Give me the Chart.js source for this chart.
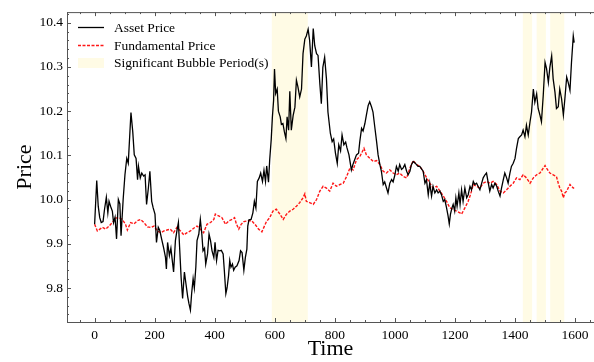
<!DOCTYPE html>
<html>
<head>
<meta charset="utf-8">
<script src="https://cdn.jsdelivr.net/npm/chart.js@4.4.1/dist/chart.umd.min.js"></script>
<style>
  html, body { margin: 0; padding: 0; background: #fff; overflow: hidden; }
  #wrap { width: 594px; height: 362px; }
</style>
</head>
<body>
<div id="wrap"><canvas id="priceChart" width="594" height="362"></canvas></div>
<script>
// Asset price (black)
const assetTime = [0,7,12,17,22,28,33,39,44,48,53,59,63,68,73,79,84,88,95,101,107,112,117,121,127,132,138,143,146,152,157,163,168,173,179,184,190,195,201,206,212,217,223,230,236,239,243,249,254,260,263,269,274,279,283,288,293,299,304,310,314,319,323,328,332,337,341,347,352,357,361,366,370,376,381,386,391,397,401,406,411,417,422,428,432,437,441,446,450,454,459,463,468,474,481,486,491,497,502,507,510,514,521,527,532,537,542,548,553,559,564,569,573,579,583,588,592,596,599,603,608,612,618,622,627,632,637,641,646,650,655,661,667,672,677,683,689,694,700,705,711,716,722,728,733,739,744,750,755,760,766,772,777,785,791,796,802,808,813,819,824,830,836,840,847,855,860,866,872,879,883,889,894,900,905,911,916,922,927,933,939,944,950,955,961,966,972,977,983,989,994,1000,1005,1011,1016,1022,1027,1033,1039,1044,1050,1055,1061,1066,1072,1077,1083,1088,1094,1100,1105,1111,1116,1122,1127,1133,1139,1144,1150,1155,1161,1166,1172,1177,1181,1185,1190,1194,1199,1203,1207,1213,1217,1222,1227,1233,1239,1244,1250,1255,1261,1266,1272,1277,1283,1289,1294,1300,1305,1311,1316,1322,1327,1333,1339,1344,1350,1355,1361,1366,1372,1377,1383,1388,1394,1400,1405,1411,1416,1422,1427,1433,1438,1444,1450,1455,1461,1466,1472,1477,1483,1488,1494,1500,1505,1511,1516,1522,1527,1533,1538,1544,1549,1555,1561,1566,1572,1577,1583,1588,1594,1597];
const assetPrice = [9.944,10.043,9.985,9.959,9.948,9.950,9.978,10.005,9.970,9.996,9.985,9.974,9.948,9.960,9.911,10.000,9.990,9.918,10.000,10.056,10.093,10.082,10.146,10.197,10.153,10.101,10.093,10.045,10.075,10.049,10.060,10.053,10.056,9.989,10.026,10.064,9.996,9.981,9.967,9.903,9.937,9.930,9.911,9.890,9.869,9.843,9.903,9.873,9.890,9.854,9.836,9.907,9.929,9.948,9.892,9.824,9.776,9.836,9.810,9.780,9.765,9.750,9.787,9.821,9.800,9.847,9.907,9.922,9.955,9.922,9.884,9.890,9.854,9.877,9.922,9.907,9.884,9.869,9.903,9.862,9.885,9.884,9.885,9.877,9.839,9.787,9.800,9.828,9.862,9.847,9.854,9.840,9.847,9.850,9.862,9.884,9.880,9.840,9.869,9.888,9.940,9.954,9.955,9.970,9.996,9.981,10.041,10.049,10.060,10.041,10.066,10.041,10.076,10.039,10.090,10.135,10.187,10.224,10.295,10.240,10.250,10.200,10.187,10.170,10.172,10.153,10.138,10.187,10.157,10.245,10.157,10.190,10.209,10.270,10.255,10.232,10.250,10.330,10.363,10.370,10.385,10.360,10.300,10.387,10.348,10.330,10.326,10.262,10.217,10.299,10.322,10.273,10.198,10.150,10.131,10.137,10.105,10.082,10.124,10.110,10.146,10.124,10.130,10.118,10.101,10.067,10.079,10.090,10.101,10.105,10.131,10.161,10.155,10.172,10.191,10.213,10.221,10.210,10.198,10.164,10.131,10.101,10.079,10.064,10.034,10.040,10.026,10.015,10.037,10.045,10.040,10.056,10.075,10.064,10.079,10.068,10.071,10.079,10.064,10.056,10.064,10.079,10.086,10.083,10.079,10.075,10.075,10.070,10.064,10.037,10.045,10.011,10.037,10.008,10.030,10.015,10.022,10.015,10.019,10.011,9.996,10.000,9.981,9.963,9.945,9.967,9.981,9.989,9.974,10.004,9.985,10.015,9.989,10.022,9.996,10.026,10.004,10.011,10.030,10.022,10.041,10.034,10.037,10.030,10.022,10.037,10.049,10.056,10.060,10.037,10.019,10.034,10.026,10.037,10.030,10.019,10.008,10.026,10.045,10.060,10.049,10.037,10.060,10.075,10.082,10.093,10.116,10.138,10.142,10.146,10.157,10.142,10.168,10.146,10.176,10.198,10.250,10.220,10.239,10.206,10.191,10.176,10.236,10.310,10.296,10.265,10.299,10.325,10.273,10.243,10.206,10.210,10.250,10.228,10.191,10.228,10.277,10.265,10.247,10.310,10.370,10.355];

// Fundamental price (red dashed)
const fundTime = [0,9,26,37,48,59,70,81,92,103,109,120,131,142,153,164,176,187,198,209,220,231,241,252,263,274,286,297,308,319,330,341,352,363,374,386,397,402,413,424,436,447,458,466,472,480,488,497,512,523,534,546,557,572,583,594,605,617,628,639,650,661,672,683,694,700,705,716,728,739,750,761,772,783,794,805,817,828,839,850,861,872,883,889,897,905,917,928,939,950,961,972,983,994,1005,1016,1028,1039,1050,1061,1072,1083,1094,1105,1116,1127,1139,1150,1161,1172,1183,1194,1205,1216,1222,1233,1244,1250,1255,1261,1272,1283,1294,1305,1316,1327,1339,1350,1361,1372,1383,1394,1405,1416,1427,1438,1450,1461,1472,1483,1494,1500,1505,1516,1527,1538,1544,1549,1555,1561,1566,1572,1577,1583,1588,1594,1597];
const fundPrice = [9.944,9.929,9.937,9.933,9.940,9.948,9.958,9.959,9.955,9.944,9.931,9.948,9.945,9.952,9.955,9.948,9.938,9.937,9.940,9.929,9.925,9.929,9.931,9.933,9.925,9.937,9.929,9.920,9.925,9.929,9.935,9.940,9.933,9.925,9.944,9.948,9.955,9.967,9.963,9.959,9.944,9.952,9.955,9.959,9.945,9.933,9.944,9.950,9.952,9.952,9.944,9.933,9.927,9.950,9.959,9.974,9.978,9.967,9.955,9.967,9.974,9.978,9.985,9.993,10.004,10.013,9.996,9.993,9.989,10.000,10.019,10.030,10.026,10.019,10.037,10.030,10.034,10.037,10.052,10.071,10.067,10.090,10.097,10.105,10.116,10.101,10.093,10.086,10.088,10.079,10.064,10.060,10.067,10.060,10.056,10.060,10.052,10.049,10.071,10.088,10.079,10.075,10.064,10.050,10.037,10.026,10.030,10.019,10.008,9.996,9.981,9.978,9.974,9.970,9.967,9.981,9.996,10.008,10.019,10.034,10.030,10.026,10.037,10.041,10.037,10.041,10.034,10.019,10.015,10.022,10.030,10.037,10.049,10.045,10.056,10.049,10.037,10.049,10.056,10.060,10.071,10.077,10.071,10.060,10.056,10.052,10.037,10.026,10.019,10.004,10.015,10.019,10.026,10.034,10.030,10.026,10.026];

// Significant bubble periods (start / end times)
const bubbleStart = [590, 1426, 1472, 1517];
const bubbleEnd = [710, 1457, 1503, 1564];

// Tick labels
const xTicks = [0, 200, 400, 600, 800, 1000, 1200, 1400, 1600];
const yTicks = [9.8, 9.9, 10.0, 10.1, 10.2, 10.3, 10.4];
const xMinor = [-50,50,100,150,250,300,350,450,500,550,650,700,750,850,900,950,1050,1100,1150,1250,1300,1350,1450,1500,1550,1650];
const yMinor = [9.74,9.76,9.78,9.82,9.84,9.86,9.88,9.92,9.94,9.96,9.98,10.02,10.04,10.06,10.08,10.12,10.14,10.16,10.18,10.22,10.24,10.26,10.28,10.32,10.34,10.36,10.38,10.42];

const serif = "'Liberation Serif', 'DejaVu Serif', serif";
const axisColor = "#555";
const bandColor = "rgba(255, 215, 0, 0.1)";
const redColor = "rgba(255, 10, 10, 0.95)";

const toPoints = (xs, ys) => xs.map((x, i) => ({ x: x, y: ys[i] }));

// shaded bubble periods behind the lines
const bandsPlugin = {
  id: "bands",
  beforeDatasetsDraw(chart) {
    const { ctx, chartArea, scales } = chart;
    ctx.save();
    ctx.fillStyle = bandColor;
    bubbleStart.forEach((s, i) => {
      const x0 = scales.x.getPixelForValue(s);
      const x1 = scales.x.getPixelForValue(bubbleEnd[i]);
      ctx.fillRect(x0, chartArea.top, x1 - x0, chartArea.bottom - chartArea.top);
    });
    ctx.restore();
  }
};

// inward ticks, top spine and legend
const framePlugin = {
  id: "frame",
  afterDraw(chart) {
    const { ctx, chartArea, scales } = chart;
    const { left, right, top, bottom } = chartArea;
    ctx.save();
    ctx.strokeStyle = axisColor;
    ctx.lineWidth = 1;
    ctx.beginPath();
    ctx.moveTo(left, top + 0.5);
    ctx.lineTo(right, top + 0.5);
    xTicks.forEach(v => {
      const x = Math.round(scales.x.getPixelForValue(v)) + 0.5;
      ctx.moveTo(x, bottom); ctx.lineTo(x, bottom - 4);
      ctx.moveTo(x, top); ctx.lineTo(x, top + 4);
    });
    xMinor.forEach(v => {
      const x = Math.round(scales.x.getPixelForValue(v)) + 0.5;
      ctx.moveTo(x, bottom); ctx.lineTo(x, bottom - 2);
      ctx.moveTo(x, top); ctx.lineTo(x, top + 2);
    });
    yTicks.forEach(v => {
      const y = Math.round(scales.y.getPixelForValue(v)) + 0.5;
      ctx.moveTo(left, y); ctx.lineTo(left + 4, y);
    });
    yMinor.forEach(v => {
      const y = Math.round(scales.y.getPixelForValue(v)) + 0.5;
      ctx.moveTo(left, y); ctx.lineTo(left + 2, y);
    });
    ctx.stroke();

    // legend
    const lx = 78, tx = 114;
    ctx.font = "13.5px " + serif;
    ctx.fillStyle = "#000";
    ctx.textBaseline = "middle";
    ctx.strokeStyle = "#000";
    ctx.lineWidth = 1.3;
    ctx.beginPath(); ctx.moveTo(lx, 27.5); ctx.lineTo(lx + 26, 27.5); ctx.stroke();
    ctx.fillText("Asset Price", tx, 28);
    ctx.strokeStyle = redColor;
    ctx.lineWidth = 1.3;
    ctx.setLineDash([3, 1.5]);
    ctx.beginPath(); ctx.moveTo(lx, 45.5); ctx.lineTo(lx + 26, 45.5); ctx.stroke();
    ctx.setLineDash([]);
    ctx.fillText("Fundamental Price", tx, 46);
    ctx.fillStyle = bandColor;
    ctx.fillRect(lx, 58, 26, 10);
    ctx.fillStyle = "#000";
    ctx.fillText("Significant Bubble Period(s)", tx, 63);
    ctx.restore();
  }
};

document.addEventListener("DOMContentLoaded", () => {
  const ctx = document.getElementById("priceChart");

  new Chart(ctx, {
    type: "line",
    data: {
      datasets: [
        {
          label: "Asset Price",
          data: toPoints(assetTime, assetPrice),
          borderColor: "#000",
          borderWidth: 1.3,
          pointRadius: 0,
          tension: 0
        },
        {
          label: "Fundamental Price",
          data: toPoints(fundTime, fundPrice),
          borderColor: redColor,
          borderWidth: 1.4,
          borderDash: [3, 1.5],
          pointRadius: 0,
          tension: 0
        }
      ]
    },
    options: {
      responsive: false,
      animation: false,
      layout: { padding: { top: 9, right: 0, left: 0, bottom: 0 } },
      plugins: {
        legend: { display: false },
        tooltip: { enabled: false }
      },
      scales: {
        x: {
          type: "linear",
          min: -92,
          max: 1663,
          afterBuildTicks: scale => { scale.ticks = xTicks.map(v => ({ value: v })); },
          afterFit: scale => { scale.height = 40; },
          grid: { display: true, drawOnChartArea: false, drawTicks: false },
          border: { display: true, color: axisColor, width: 1 },
          ticks: {
            color: "#000",
            padding: 5,
            maxRotation: 0,
            font: { family: serif, size: 13.5 },
            callback: v => String(v)
          },
          title: { display: true, text: "Time", color: "#000", padding: { top: 0, bottom: 0 }, font: { family: serif, size: 22 } }
        },
        y: {
          min: 9.723,
          max: 10.424,
          afterBuildTicks: scale => { scale.ticks = yTicks.map(v => ({ value: v })); },
          afterFit: scale => { scale.width = 67; },
          grid: { display: true, drawOnChartArea: false, drawTicks: false },
          border: { display: true, color: axisColor, width: 1 },
          ticks: {
            color: "#000",
            padding: 4,
            font: { family: serif, size: 13.5 },
            callback: v => v.toFixed(1)
          },
          title: { display: true, text: "Price", color: "#000", padding: { top: 12, bottom: 0 }, font: { family: serif, size: 22 } }
        }
      }
    },
    plugins: [bandsPlugin, framePlugin]
  });
});
</script>
</body>
</html>
